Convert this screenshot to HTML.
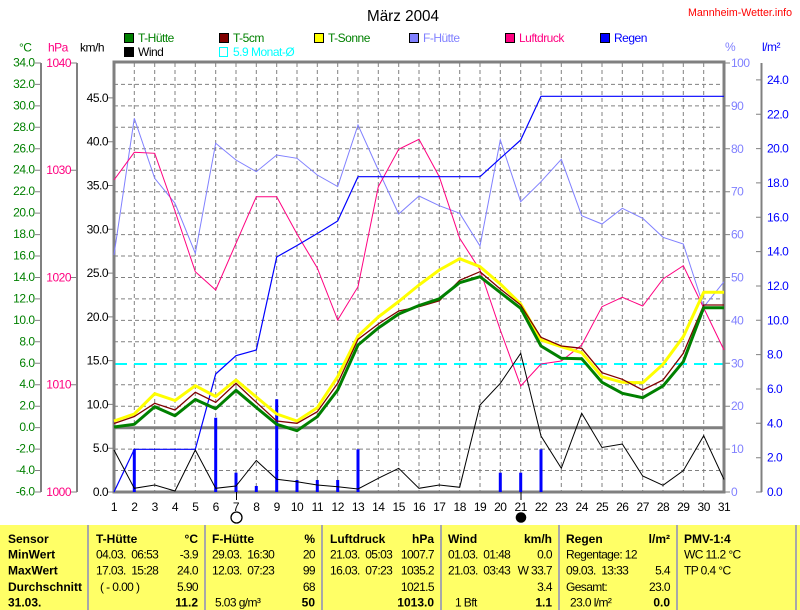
<!DOCTYPE html>
<html><head><meta charset="utf-8"><style>
html,body{margin:0;padding:0;background:#fff;}
svg{display:block;}
text{font-family:"Liberation Sans",Arial,sans-serif;}
.ax{font-size:12px;letter-spacing:-0.5px;}
.lg{font-size:12px;letter-spacing:-0.5px;}
.tb{font-size:12px;font-weight:bold;fill:#000;}
.tn{font-size:12px;letter-spacing:-0.6px;fill:#000;white-space:pre;}
</style></head><body>
<svg width="800" height="610" viewBox="0 0 800 610" xmlns="http://www.w3.org/2000/svg">
<rect x="0" y="0" width="800" height="610" fill="#fff"/>
<!-- title -->
<text x="367" y="21" font-size="16" textLength="72" lengthAdjust="spacingAndGlyphs">März 2004</text>
<text x="688" y="16" font-size="11" fill="#ff0000" textLength="104" lengthAdjust="spacingAndGlyphs">Mannheim-Wetter.info</text>
<!-- legend -->
<g stroke="#000" stroke-width="1">
<rect x="124.5" y="33.5" width="9" height="9" fill="#008000"/>
<rect x="219.5" y="33.5" width="9" height="9" fill="#800000"/>
<rect x="314.5" y="33.5" width="9" height="9" fill="#ffff00"/>
<rect x="409.5" y="33.5" width="9" height="9" fill="#8080ff"/>
<rect x="505.5" y="33.5" width="9" height="9" fill="#ff0080"/>
<rect x="600.5" y="33.5" width="9" height="9" fill="#0000ff"/>
<rect x="124.5" y="47.5" width="9" height="9" fill="#000"/>
</g>
<rect x="219.5" y="47.5" width="8" height="9" fill="none" stroke="#00ffff" stroke-width="1"/>
<text class="lg" x="138" y="42" fill="#008000">T-Hütte</text>
<text class="lg" x="233" y="42" fill="#008000">T-5cm</text>
<text class="lg" x="328" y="42" fill="#008000">T-Sonne</text>
<text class="lg" x="423" y="42" fill="#8080ff">F-Hütte</text>
<text class="lg" x="519" y="42" fill="#ff0080">Luftdruck</text>
<text class="lg" x="614" y="42" fill="#0000ff">Regen</text>
<text class="lg" x="138" y="56" fill="#000">Wind</text>
<text class="lg" x="233" y="56" fill="#00ffff">5.9 Monat-Ø</text>
<!-- unit labels -->
<text class="ax" x="19" y="51.5" fill="#008000">°C</text>
<text class="ax" x="48" y="51.5" fill="#ff0080">hPa</text>
<text class="ax" x="80" y="51.5" fill="#000">km/h</text>
<text class="ax" x="725" y="51" fill="#8080ff">%</text>
<text class="ax" x="762" y="51" fill="#0000ff">l/m²</text>

<!-- grid -->
<g stroke="#808080" stroke-width="1" stroke-dasharray="4 3" fill="none">
<path d="M134.3 63V492M154.7 63V492M175 63V492M195.3 63V492M215.7 63V492M236 63V492M256.3 63V492M276.7 63V492M297 63V492M317.3 63V492M337.7 63V492M358 63V492M378.3 63V492M398.7 63V492M419 63V492M439.3 63V492M459.7 63V492M480 63V492M500.3 63V492M520.7 63V492M541 63V492M561.3 63V492M581.7 63V492M602 63V492M622.3 63V492M642.7 63V492M663 63V492M683.3 63V492M703.7 63V492"/>
<path d="M114 470.5H724M114 449.1H724M114 406.2H724M114 384.7H724M114 341.8H724M114 320.4H724M114 298.9H724M114 277.5H724M114 256H724M114 234.6H724M114 213.1H724M114 191.7H724M114 170.2H724M114 148.8H724M114 127.3H724M114 105.9H724M114 84.4H724"/>
</g>
<!-- cyan month avg -->
<line x1="114" y1="364" x2="724" y2="364" stroke="#00ffff" stroke-width="2" stroke-dasharray="13 7"/>
<!-- thick lines -->
<g stroke="#808080" fill="none">
<rect x="114" y="62" width="610" height="430" stroke-width="3"/>
<line x1="114" y1="427.7" x2="724" y2="427.7" stroke-width="3"/>
<line x1="41" y1="63" x2="41" y2="492" stroke-width="2"/>
<line x1="77" y1="63" x2="77" y2="492" stroke-width="2"/>
<line x1="761.5" y1="63" x2="761.5" y2="492" stroke-width="2"/>
</g>
<!-- ticks -->
<g stroke="#808080" stroke-width="1">
<path d="M35 63H41M35 84.4H41M35 105.9H41M35 127.3H41M35 148.8H41M35 170.2H41M35 191.7H41M35 213.1H41M35 234.6H41M35 256H41M35 277.5H41M35 298.9H41M35 320.4H41M35 341.8H41M35 363.3H41M35 384.7H41M35 406.2H41M35 427.6H41M35 449.1H41M35 470.5H41M35 492H41"/>
<path d="M71 63H77M71 170.2H77M71 277.5H77M71 384.7H77M71 492H77"/>
<path d="M108 97.9H114M108 141.7H114M108 185.5H114M108 229.3H114M108 273.1H114M108 316.9H114M108 360.6H114M108 404.4H114M108 448.2H114M108 492H114"/>
<path d="M724 63H730M724 105.9H730M724 148.8H730M724 191.7H730M724 234.6H730M724 277.5H730M724 320.4H730M724 363.3H730M724 406.2H730M724 449.1H730M724 492H730"/>
<path d="M756 79.9H762M756 114.3H762M756 148.6H762M756 182.9H762M756 217.3H762M756 251.6H762M756 286H762M756 320.3H762M756 354.6H762M756 389H762M756 423.3H762M756 457.7H762M756 492H762"/>
</g>
<!-- axis labels -->
<g class="ax" fill="#008000" text-anchor="end">
<text x="34.5" y="66.5">34.0</text><text x="34.5" y="88">32.0</text><text x="34.5" y="109.4">30.0</text><text x="34.5" y="130.8">28.0</text><text x="34.5" y="152.3">26.0</text><text x="34.5" y="173.7">24.0</text><text x="34.5" y="195.2">22.0</text><text x="34.5" y="216.6">20.0</text><text x="34.5" y="238.1">18.0</text><text x="34.5" y="259.5">16.0</text><text x="34.5" y="281">14.0</text><text x="34.5" y="302.4">12.0</text><text x="34.5" y="323.9">10.0</text><text x="34.5" y="345.3">8.0</text><text x="34.5" y="366.8">6.0</text><text x="34.5" y="388.2">4.0</text><text x="34.5" y="409.7">2.0</text><text x="34.5" y="431.1">0.0</text><text x="34.5" y="452.6">-2.0</text><text x="34.5" y="474">-4.0</text><text x="34.5" y="495.5">-6.0</text>
</g>
<g class="ax" fill="#ff0080" text-anchor="end">
<text x="71" y="67">1040</text><text x="71" y="174.2">1030</text><text x="71" y="281.5">1020</text><text x="71" y="388.7">1010</text><text x="71" y="496">1000</text>
</g>
<g class="ax" fill="#000" text-anchor="end">
<text x="108" y="102">45.0</text><text x="108" y="145.7">40.0</text><text x="108" y="189.5">35.0</text><text x="108" y="233.3">30.0</text><text x="108" y="277.1">25.0</text><text x="108" y="320.9">20.0</text><text x="108" y="364.6">15.0</text><text x="108" y="408.4">10.0</text><text x="108" y="452.2">5.0</text><text x="108" y="496">0.0</text>
</g>
<g class="ax" fill="#8080ff">
<text x="731" y="67">100</text><text x="731" y="109.9">90</text><text x="731" y="152.8">80</text><text x="731" y="195.7">70</text><text x="731" y="238.6">60</text><text x="731" y="281.5">50</text><text x="731" y="324.4">40</text><text x="731" y="367.3">30</text><text x="731" y="410.2">20</text><text x="731" y="453.1">10</text><text x="731" y="496">0</text>
</g>
<g class="ax" fill="#0000ff">
<text x="767" y="83.9">24.0</text><text x="767" y="118.3">22.0</text><text x="767" y="152.6">20.0</text><text x="767" y="186.9">18.0</text><text x="767" y="221.3">16.0</text><text x="767" y="255.6">14.0</text><text x="767" y="290">12.0</text><text x="767" y="324.3">10.0</text><text x="767" y="358.6">8.0</text><text x="767" y="393">6.0</text><text x="767" y="427.3">4.0</text><text x="767" y="461.7">2.0</text><text x="767" y="496">0.0</text>
</g>
<!-- day labels -->
<g class="ax" fill="#000" text-anchor="middle">
<text x="114" y="511">1</text><text x="134.3" y="511">2</text><text x="154.7" y="511">3</text><text x="175" y="511">4</text><text x="195.3" y="511">5</text><text x="215.7" y="511">6</text><text x="236" y="511">7</text><text x="256.3" y="511">8</text><text x="276.7" y="511">9</text><text x="297" y="511">10</text><text x="317.3" y="511">11</text><text x="337.7" y="511">12</text><text x="358" y="511">13</text><text x="378.3" y="511">14</text><text x="398.7" y="511">15</text><text x="419" y="511">16</text><text x="439.3" y="511">17</text><text x="459.7" y="511">18</text><text x="480" y="511">19</text><text x="500.3" y="511">20</text><text x="520.7" y="511">21</text><text x="541" y="511">22</text><text x="561.3" y="511">23</text><text x="581.7" y="511">24</text><text x="602" y="511">25</text><text x="622.3" y="511">26</text><text x="642.7" y="511">27</text><text x="663" y="511">28</text><text x="683.3" y="511">29</text><text x="703.7" y="511">30</text><text x="724" y="511">31</text>
</g>
<!-- moon -->
<line x1="236.5" y1="492" x2="236.5" y2="500" stroke="#000" stroke-width="1"/>
<line x1="521" y1="492" x2="521" y2="500" stroke="#000" stroke-width="1"/>
<circle cx="236.5" cy="517.5" r="5.5" fill="#fff" stroke="#000" stroke-width="1.3"/>
<circle cx="521" cy="517.5" r="5.3" fill="#000"/>

<!-- series -->
<polyline fill="none" stroke="#8080ff" stroke-width="1" points="114,255 134.3,118.3 154.7,178.3 175,203.3 195.3,253.3 215.7,143.3 236,160 256.3,171.7 276.7,155 297,158.3 317.3,175 337.7,186.5 358,125 378.3,170 398.7,214 419,196 439.3,205.7 459.7,213.3 480,246 500.3,140 520.7,201.7 541,181.7 561.3,159.3 581.7,215.7 602,224 622.3,208.3 642.7,218.3 663,237.3 683.3,244 703.7,307 724,281.7"/>
<polyline fill="none" stroke="#ff0080" stroke-width="1" points="114,180 134.3,152.3 154.7,153.3 175,211 195.3,271.7 215.7,290 236,243.3 256.3,196.7 276.7,196.7 297,234 317.3,268 337.7,320 358,286.7 378.3,186.7 398.7,149.3 419,139.3 439.3,176.7 459.7,238.3 480,270 500.3,330 520.7,386 541,364 561.3,361 581.7,345 602,306.7 622.3,297.3 642.7,306 663,279 683.3,265.7 703.7,308 724,350"/>
<polyline fill="none" stroke="#0000ff" stroke-width="1.2" points="114,492 134.3,449.3 195.3,449.3 215.7,374 236,355.7 256.3,350 276.7,257 297,245.5 317.3,233.5 337.7,221 358,176.7 480,176.7 500.3,158.3 520.7,140 541,96.3 724,96.3"/>
<g stroke="#0000ff" stroke-width="3">
<line x1="134.3" y1="492" x2="134.3" y2="449.3"/>
<line x1="215.7" y1="492" x2="215.7" y2="417.7"/>
<line x1="236" y1="492" x2="236" y2="472.7"/>
<line x1="256.3" y1="492" x2="256.3" y2="486"/>
<line x1="276.7" y1="492" x2="276.7" y2="399.3"/>
<line x1="297" y1="492" x2="297" y2="480"/>
<line x1="317.3" y1="492" x2="317.3" y2="480"/>
<line x1="337.7" y1="492" x2="337.7" y2="480"/>
<line x1="358" y1="492" x2="358" y2="449.3"/>
<line x1="500.3" y1="492" x2="500.3" y2="472.7"/>
<line x1="520.7" y1="492" x2="520.7" y2="472.7"/>
<line x1="541" y1="492" x2="541" y2="449.3"/>
</g>
<polyline fill="none" stroke="#000" stroke-width="1" points="114,450 134.3,488.3 154.7,485 175,491 195.3,450 215.7,488.3 236,486 256.3,460.5 276.7,479.3 297,481.7 317.3,485 337.7,486.7 358,489 378.3,478.3 398.7,468.3 419,488.3 439.3,485 459.7,487.3 480,405 500.3,383.3 520.7,353.3 541,436 561.3,468.3 581.7,413.3 602,447.5 622.3,444 642.7,476 663,485.3 683.3,470.7 703.7,435.7 724,479.5"/>
<polyline fill="none" stroke="#ffff00" stroke-width="3" stroke-linejoin="round" points="114,421 134.3,414 154.7,393.7 175,400.5 195.3,385.7 215.7,396.5 236,380 256.3,397 276.7,414 297,421 317.3,407.7 337.7,376.7 358,336 378.3,317 398.7,301.5 419,285 439.3,270 459.7,258.7 480,266.7 500.3,284 520.7,304 541,340 561.3,346.7 581.7,352.7 602,376.7 622.3,382.3 642.7,382.7 663,364.3 683.3,336.7 703.7,292.3 724,292.3"/>
<polyline fill="none" stroke="#800000" stroke-width="1.3" points="114,423.5 134.3,416.5 154.7,403.3 175,410 195.3,392.3 215.7,402.3 236,383.3 256.3,402.3 276.7,421 297,423.3 317.3,411.7 337.7,383.3 358,339.3 378.3,324 398.7,311 419,306.7 439.3,300.8 459.7,280.3 480,271.7 500.3,289 520.7,305 541,337.3 561.3,346 581.7,348.3 602,372.7 622.3,379.3 642.7,390 663,380 683.3,353.3 703.7,305 724,305"/>
<polyline fill="none" stroke="#008000" stroke-width="3" stroke-linejoin="round" points="114,427 134.3,424.3 154.7,406.7 175,415.7 195.3,399.5 215.7,408.7 236,390.3 256.3,407.5 276.7,424.3 297,430.7 317.3,416.7 337.7,390 358,345 378.3,328 398.7,314 419,305.5 439.3,298.8 459.7,282.7 480,276.7 500.3,292.5 520.7,308.3 541,346 561.3,358.3 581.7,358.7 602,382.3 622.3,393.3 642.7,397.7 663,386 683.3,361.7 703.7,307.7 724,307.7"/>

<!-- table -->
<rect x="0" y="525" width="800" height="85" fill="#ffff66"/>
<g stroke="#a8a8a8" stroke-width="2">
<line x1="88" y1="525" x2="88" y2="610"/>
<line x1="205" y1="525" x2="205" y2="610"/>
<line x1="322" y1="525" x2="322" y2="610"/>
<line x1="441" y1="525" x2="441" y2="610"/>
<line x1="559" y1="525" x2="559" y2="610"/>
<line x1="677" y1="525" x2="677" y2="610"/>
<line x1="796" y1="525" x2="796" y2="610"/>
</g>
<!-- col1 -->
<text class="tb" x="8" y="543">Sensor</text>
<text class="tb" x="8" y="558.6">MinWert</text>
<text class="tb" x="8" y="574.6">MaxWert</text>
<text class="tb" x="8" y="590.8">Durchschnitt</text>
<text class="tb" x="8" y="606.7">31.03.</text>
<!-- col2 -->
<text class="tb" x="96" y="543">T-Hütte</text>
<text class="tb" x="198" y="543" text-anchor="end">°C</text>
<text class="tn" x="96" y="558.6" xml:space="preserve">04.03.  06:53</text>
<text class="tn" x="198" y="558.6" text-anchor="end">-3.9</text>
<text class="tn" x="96" y="574.6" xml:space="preserve">17.03.  15:28</text>
<text class="tn" x="198" y="574.6" text-anchor="end">24.0</text>
<text class="tn" x="100" y="590.8">( - 0.00 )</text>
<text class="tn" x="198" y="590.8" text-anchor="end">5.90</text>
<text class="tb" x="198" y="606.7" text-anchor="end">11.2</text>
<!-- col3 -->
<text class="tb" x="212" y="543">F-Hütte</text>
<text class="tb" x="315" y="543" text-anchor="end">%</text>
<text class="tn" x="212" y="558.6" xml:space="preserve">29.03.  16:30</text>
<text class="tn" x="315" y="558.6" text-anchor="end">20</text>
<text class="tn" x="212" y="574.6" xml:space="preserve">12.03.  07:23</text>
<text class="tn" x="315" y="574.6" text-anchor="end">99</text>
<text class="tn" x="315" y="590.8" text-anchor="end">68</text>
<text class="tn" x="215" y="606.7">5.03 g/m³</text>
<text class="tb" x="315" y="606.7" text-anchor="end">50</text>
<!-- col4 -->
<text class="tb" x="330" y="543">Luftdruck</text>
<text class="tb" x="434" y="543" text-anchor="end">hPa</text>
<text class="tn" x="330" y="558.6" xml:space="preserve">21.03.  05:03</text>
<text class="tn" x="434" y="558.6" text-anchor="end">1007.7</text>
<text class="tn" x="330" y="574.6" xml:space="preserve">16.03.  07:23</text>
<text class="tn" x="434" y="574.6" text-anchor="end">1035.2</text>
<text class="tn" x="434" y="590.8" text-anchor="end">1021.5</text>
<text class="tb" x="434" y="606.7" text-anchor="end">1013.0</text>
<!-- col5 -->
<text class="tb" x="448" y="543">Wind</text>
<text class="tb" x="552" y="543" text-anchor="end">km/h</text>
<text class="tn" x="448" y="558.6" xml:space="preserve">01.03.  01:48</text>
<text class="tn" x="552" y="558.6" text-anchor="end">0.0</text>
<text class="tn" x="448" y="574.6" xml:space="preserve">21.03.  03:43</text>
<text class="tn" x="552" y="574.6" text-anchor="end">W 33.7</text>
<text class="tn" x="552" y="590.8" text-anchor="end">3.4</text>
<text class="tn" x="455" y="606.7">1 Bft</text>
<text class="tb" x="552" y="606.7" text-anchor="end">1.1</text>
<!-- col6 -->
<text class="tb" x="566" y="543">Regen</text>
<text class="tb" x="670" y="543" text-anchor="end">l/m²</text>
<text class="tn" x="566" y="558.6">Regentage: 12</text>
<text class="tn" x="566" y="574.6" xml:space="preserve">09.03.  13:33</text>
<text class="tn" x="670" y="574.6" text-anchor="end">5.4</text>
<text class="tn" x="566" y="590.8">Gesamt:</text>
<text class="tn" x="670" y="590.8" text-anchor="end">23.0</text>
<text class="tn" x="570" y="606.7">23.0 l/m²</text>
<text class="tb" x="670" y="606.7" text-anchor="end">0.0</text>
<!-- col7 -->
<text class="tb" x="684" y="543">PMV-1:4</text>
<text class="tn" x="684" y="558.6">WC 11.2 °C</text>
<text class="tn" x="684" y="574.6">TP 0.4 °C</text>
</svg>
</body></html>
